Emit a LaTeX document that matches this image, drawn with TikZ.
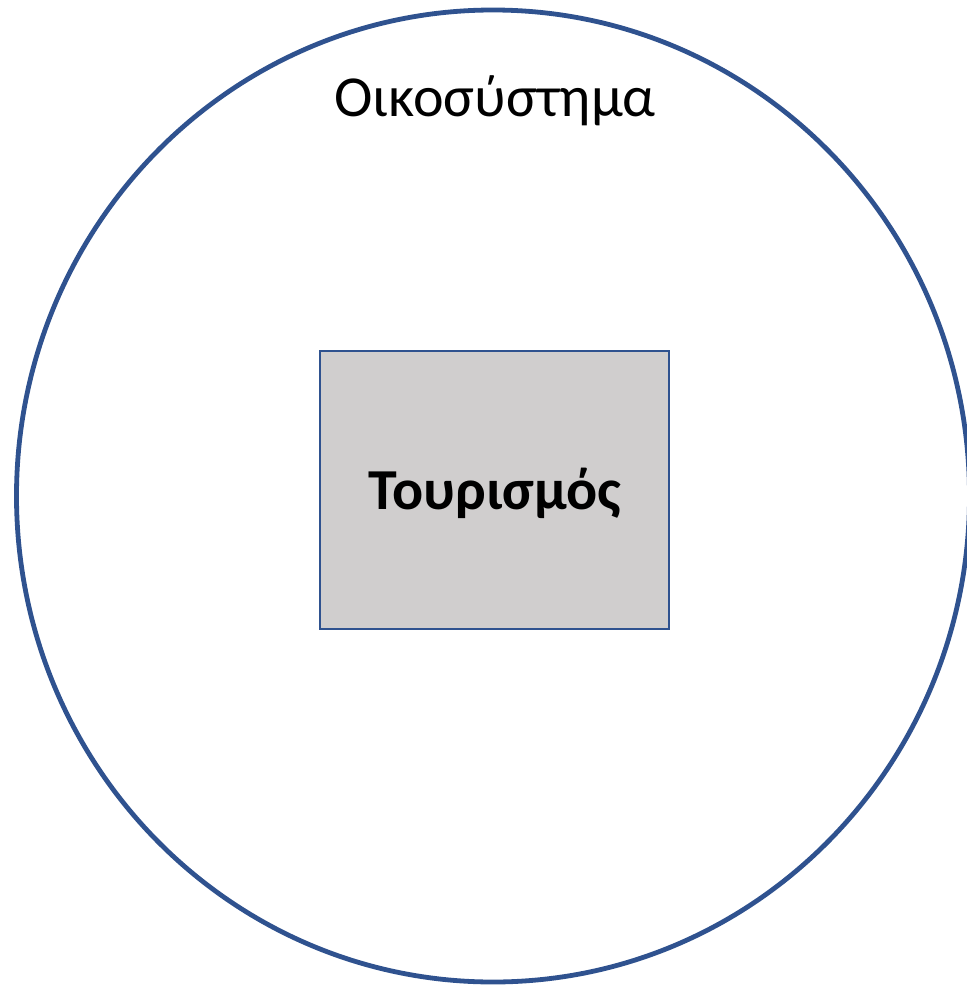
\documentclass[tikz,border=0pt]{standalone}
\usepackage{fontspec}
\setmainfont{Carlito}
\usetikzlibrary{shapes.geometric}
\definecolor{ringblue}{HTML}{2F528F}
\definecolor{boxgray}{HTML}{D0CECE}
\tikzset{
  ring/.style={ellipse, draw=ringblue, line width=4.8pt, minimum width=953pt, minimum height=972pt, inner sep=0pt},
  boxnode/.style={rectangle, draw=ringblue, line width=2pt, fill=boxgray, minimum width=349pt, minimum height=278pt, inner sep=0pt},
  label/.style={font=\fontsize{58}{66}\selectfont}
}
\begin{document}
\begin{tikzpicture}[x=1pt,y=-1pt]
\useasboundingbox (0,0) rectangle (966,990);
\node[ring] (eco) at (493,496) {};
\node[boxnode] (tour) at (494.5,490) {};
\node[label, font=\fontsize{58}{66}\selectfont\bfseries] (tourtext) at (495,493) {Τουρισμός};
\node[label] (ecotext) at (495,101) {Οικοσύστημα};
\end{tikzpicture}
\end{document}
